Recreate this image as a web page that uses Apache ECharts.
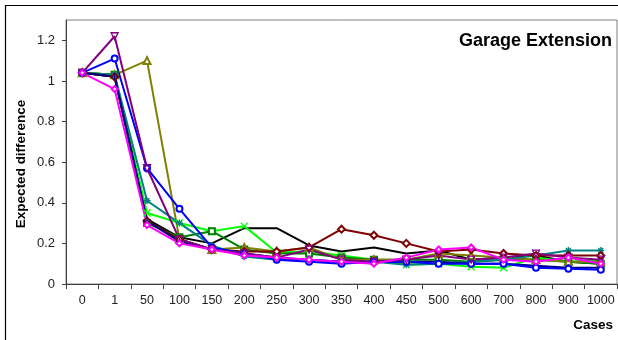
<!DOCTYPE html>
<html>
<head>
<meta charset="utf-8">
<script src="https://cdn.jsdelivr.net/npm/echarts@6/dist/echarts.min.js"></script>
<style>
html,body{margin:0;padding:0;background:#fff;}
#chart{width:618px;height:340px;}
</style>
</head>
<body>
<div id="chart"></div>
<script>
const categories = ['0','1','50','100','150','200','250','300','350','400','450','500','600','700','800','900','1000'];
const yTicks = [0, 0.2, 0.4, 0.6, 0.8, 1, 1.2];

const blackSeries   = [1.04,1.02,0.32,0.23,0.20,0.275,0.275,0.19,0.16,0.18,0.15,0.165,0.12,0.13,0.14,0.11,0.10];
const limeSeries    = [1.04,1.03,0.35,0.30,0.26,0.285,0.155,0.16,0.14,0.12,0.095,0.10,0.085,0.08,0.13,0.11,0.12];
const darkGreenSeries = [1.04,1.03,0.30,0.23,0.26,0.17,0.15,0.15,0.13,0.12,0.12,0.12,0.11,0.12,0.12,0.11,0.10];
const oliveSeries   = [1.04,1.03,1.10,0.22,0.17,0.18,0.16,0.18,0.12,0.12,0.12,0.15,0.14,0.13,0.12,0.11,0.11];
const tealSeries    = [1.04,1.03,0.41,0.30,0.19,0.135,0.12,0.12,0.11,0.11,0.095,0.10,0.11,0.12,0.14,0.165,0.165];
const darkRedSeries = [1.04,1.02,0.31,0.22,0.17,0.16,0.16,0.18,0.27,0.24,0.20,0.16,0.17,0.15,0.14,0.14,0.14];
const navySeries    = [1.04,1.02,0.31,0.21,0.17,0.15,0.13,0.12,0.11,0.11,0.11,0.11,0.10,0.10,0.09,0.08,0.08];
const blueSeries    = [1.04,1.11,0.57,0.37,0.18,0.15,0.12,0.11,0.10,0.11,0.11,0.10,0.10,0.10,0.08,0.075,0.07];
const purpleSeries  = [1.04,1.22,0.57,0.22,0.17,0.15,0.13,0.17,0.12,0.11,0.12,0.14,0.12,0.13,0.15,0.13,0.12];
const magentaSeries = [1.04,0.96,0.29,0.20,0.17,0.14,0.13,0.12,0.11,0.10,0.13,0.17,0.18,0.12,0.11,0.13,0.10];

const SYM_X = 'path://M0,0L10,10M10,0L0,10';
const SYM_STAR = 'path://M5,0L5,10M0,5L10,5M1.5,1.5L8.5,8.5M8.5,1.5L1.5,8.5';
const SYM_PLUS = 'path://M5,0L5,10M0,5L10,5';
const SYM_TDOWN = 'path://M0,0L10,0L5,9Z';
const FONT = 'Liberation Sans, Arial, sans-serif';

function mk(name, data, color, symbol, size, stroked) {
  return {
    name: name, type: 'line', data: data,
    symbol: symbol || 'none', symbolSize: size || 6,
    showSymbol: !!symbol, showAllSymbol: true,
    lineStyle: {color: color, width: 2},
    itemStyle: stroked ? {color: 'rgba(0,0,0,0)', borderColor: color, borderWidth: 1.3}
                       : {color: color, borderColor: color, borderWidth: 1},
    emphasis: {disabled: true},
    z: 2
  };
}

const chart = echarts.init(document.getElementById('chart'), null, {renderer: 'canvas'});
chart.setOption({
  animation: false,
  backgroundColor: '#fff',
  textStyle: {fontFamily: FONT},
  title: [
    {text: 'Garage Extension', right: 6, top: 32, padding: 0,
     textStyle: {fontSize: 18, fontWeight: 'bold', color: '#000', fontFamily: FONT}},
    {text: 'Cases', right: 5, top: 318, padding: 0,
     textStyle: {fontSize: 13.5, fontWeight: 'bold', color: '#000', fontFamily: FONT}}
  ],
  graphic: [
    {type: 'rect', shape: {x: 5.5, y: 5.5, width: 640, height: 400},
     style: {fill: 'none', stroke: '#000', lineWidth: 1.2}, silent: true, z: 0},
    {type: 'text', x: 21, y: 164, rotation: Math.PI / 2, silent: true, z: 10,
     style: {text: 'Expected difference', fontSize: 13.5, fontWeight: 'bold', fill: '#000',
             fontFamily: FONT, align: 'center', verticalAlign: 'middle'}}
  ],
  grid: {left: 66, right: 1, top: 20, bottom: 56, show: true, borderColor: '#808080', borderWidth: 1, backgroundColor: '#fff'},
  xAxis: {
    type: 'category', data: categories, boundaryGap: true,
    axisLine: {lineStyle: {color: '#404040', width: 1}},
    axisTick: {show: true, length: 5, alignWithLabel: false, lineStyle: {color: '#404040'}},
    axisLabel: {color: '#222', fontSize: 12.5, margin: 10, interval: 0},
    splitLine: {show: false}
  },
  yAxis: {
    type: 'value', min: 0, max: 1.3, interval: 0.2,
    axisLine: {show: true, lineStyle: {color: '#404040', width: 1}},
    axisTick: {show: true, length: 4, customValues: yTicks, lineStyle: {color: '#404040'}},
    axisLabel: {color: '#222', fontSize: 13, margin: 11, customValues: yTicks},
    splitLine: {show: false}
  },
  series: [
    mk('Black', blackSeries, '#000000', null),
    mk('Lime', limeSeries, '#00ff00', SYM_X, 7, true),
    mk('Dark green', darkGreenSeries, '#008000', 'emptyRect', 6),
    mk('Olive', oliveSeries, '#808000', 'emptyTriangle', 7),
    mk('Teal', tealSeries, '#008080', SYM_STAR, 7, true),
    mk('Dark red', darkRedSeries, '#800000', 'emptyDiamond', 7),
    mk('Navy', navySeries, '#000080', SYM_PLUS, 7, true),
    mk('Blue', blueSeries, '#0000ff', 'emptyCircle', 6),
    mk('Purple', purpleSeries, '#800080', SYM_TDOWN, 7, true),
    mk('Magenta', magentaSeries, '#ff00ff', 'emptyDiamond', 6)
  ]
});
</script>
</body>
</html>
